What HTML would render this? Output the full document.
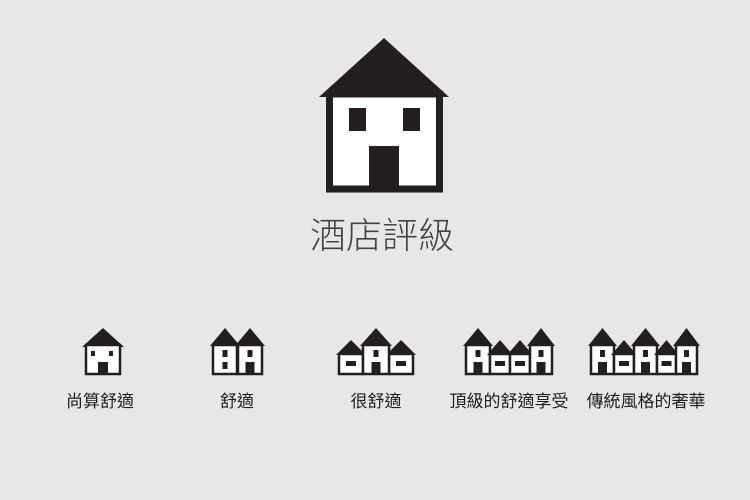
<!DOCTYPE html>
<html><head><meta charset="utf-8"><style>
body{margin:0;background:#e6e7e6}
svg{display:block}
</style></head><body>
<svg width="750" height="500" viewBox="0 0 750 500" style="position:absolute;left:0;top:0">
<rect width="750" height="500" fill="#e6e7e6"/>
<polygon points="319,97 384,38 449,97" fill="#231f20"/>
<rect x="329.5" y="94" width="110" height="95" fill="#fff" stroke="#231f20" stroke-width="7"/>
<rect x="349" y="108" width="17" height="23" fill="#231f20"/>
<rect x="403" y="108" width="17" height="23" fill="#231f20"/>
<rect x="369" y="146" width="30" height="46" fill="#231f20"/>
<text x="382" y="248" font-size="36" font-weight="300" text-anchor="middle" style="fill:#444;font-family:'Liberation Sans','Noto Sans CJK TC',sans-serif">酒店評級</text>
<g fill="#231f20" stroke="#231f20">
<polygon points="82,347 103,328 124,347" stroke="none"/>
<rect x="86" y="345" width="34" height="29" fill="#fff" stroke-width="2.5"/>
<rect x="91" y="351" width="4" height="5" stroke="none"/><rect x="109" y="351" width="4" height="5" stroke="none"/>
<rect x="98" y="362" width="10" height="13" stroke="none"/>
</g>
<g id="t" fill="#231f20" stroke="#231f20"></g>
<g font-size="17" style="font-family:'Liberation Sans','Noto Sans CJK TC',sans-serif" text-anchor="middle" fill="#1e1e1e">
<text x="100" y="407">尚算舒適</text>
<text x="237" y="407">舒適</text>
<text x="376" y="407">很舒適</text>
<text x="509" y="407">頂級的舒適享受</text>
<text x="646" y="407">傳統風格的奢華</text>
</g>
</svg>
<script>
var ns="http://www.w3.org/2000/svg",g=document.getElementById('t');
function el(n,a){var e=document.createElementNS(ns,n);for(var k in a)e.setAttribute(k,a[k]);g.appendChild(e);}
function tall(x,w,two){el('polygon',{points:(x-2)+',346 '+(x+w/2)+',328 '+(x+w+2)+',346',stroke:'none'});
 el('rect',{x:x+1,y:345,width:w-2,height:29,fill:'#fff','stroke-width':2.5});
 var c=x+w/2;
 el('rect',{x:c-2.5,y:350,width:5,height:7,stroke:'none'});
 if(two) el('rect',{x:c-2.5,y:362,width:5,height:7,stroke:'none'});
 else el('rect',{x:c-4.5,y:362,width:9,height:13,stroke:'none'});}
function short(x,w){el('polygon',{points:(x-2)+',355 '+(x+w/2)+',340 '+(x+w+2)+',355',stroke:'none'});
 el('rect',{x:x+1,y:354,width:w-2,height:20,fill:'#fff','stroke-width':2.5});
 el('rect',{x:x+w/2-5,y:361,width:10,height:5,stroke:'none'});}
tall(212,26,true);tall(237,26);
short(338,26);short(388,26);tall(362,28);
tall(465,26);short(489,22);short(509,22);tall(529,24);
tall(590,25);short(613,22);tall(633,25);short(656,21);tall(675,23);
</script>
</body></html>
